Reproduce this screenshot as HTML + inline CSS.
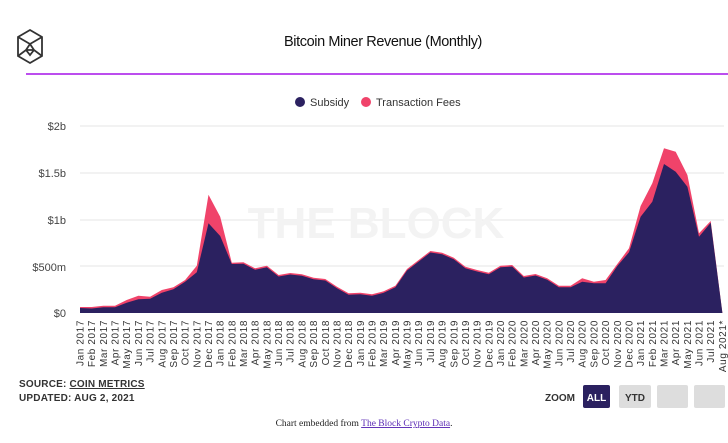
<!DOCTYPE html>
<html><head><meta charset="utf-8"><style>
body{margin:0;width:728px;height:443px;background:#fff;overflow:hidden;font-family:"Liberation Sans",sans-serif;}
</style></head><body>
<svg width="728" height="443" viewBox="0 0 728 443" xmlns="http://www.w3.org/2000/svg" style="position:absolute;left:0;top:0">
<g fill="none" stroke="#333" stroke-width="1.8">
<path d="M30 30 L42 37 L42 56 L30 63 L18 56 L18 37 Z"/>
<path d="M18 37 L30 44 L42 37 M18 56 L26 50 L34 50 L42 56 M30 44 L26 50 M30 44 L34 50 M26 50 L30 55 L34 50"/>
</g>
<text x="383" y="46" text-anchor="middle" font-size="14.5" fill="#111" letter-spacing="-0.4">Bitcoin Miner Revenue (Monthly)</text>
<line x1="26" y1="74" x2="728" y2="74" stroke="#a514e8" stroke-width="1.5"/>
<circle cx="300" cy="102" r="5" fill="#2b2160"/>
<text x="310" y="106" font-size="11" fill="#333">Subsidy</text>
<circle cx="366" cy="102" r="5" fill="#f0436a"/>
<text x="376" y="106" font-size="11" fill="#333">Transaction Fees</text>
<g stroke="#e6e6e6" stroke-width="1">
<line x1="80" y1="126" x2="724" y2="126"/><line x1="80" y1="173" x2="724" y2="173"/>
<line x1="80" y1="220" x2="724" y2="220"/><line x1="80" y1="266" x2="724" y2="266"/>
</g>
<g font-size="11" fill="#444" text-anchor="end">
<text x="66" y="130">$2b</text><text x="66" y="177">$1.5b</text><text x="66" y="224">$1b</text><text x="66" y="271">$500m</text><text x="66" y="317">$0</text>
</g>
<text x="376" y="238" text-anchor="middle" font-size="44" font-weight="bold" fill="#f3f3f3">THE BLOCK</text>
<polygon fill="#f0436a" points="80,313 80,307 91.7,307 103.4,305.7 115,305.7 126.7,300 138.4,295.7 150.1,296.7 161.8,290 173.4,287.3 185.1,280 196.8,265.7 208.5,194.7 220.2,216.7 231.8,262.7 243.5,262.3 255.2,268.3 266.9,265.7 278.6,275 290.2,273 301.9,274.3 313.6,277.7 325.3,279 337,286.7 348.6,293.3 360.3,292.7 372,294.3 383.7,291.3 395.4,285.7 407,269 418.7,260 430.4,251 442.1,252.7 453.8,257.7 465.4,266.7 477.1,270 488.8,272.7 500.5,265.7 512.2,265 523.8,276 535.5,274 547.2,278.3 558.9,285.7 570.6,285.7 582.2,278.3 593.9,281.7 605.6,280 617.3,264 629,248.3 640.6,206 652.3,183.3 664,148.3 675.7,151.7 687.4,175 699,233.3 710.7,221 722.4,313"/>
<polygon fill="#2b2160" points="80,313 80,308 91.7,308.5 103.4,307.2 115,307.2 126.7,302.7 138.4,299.3 150.1,298.7 161.8,292.7 173.4,289.3 185.1,281.7 196.8,272.3 208.5,223.3 220.2,236 231.8,264 243.5,263.8 255.2,269.8 266.9,267.2 278.6,276.5 290.2,274.5 301.9,275.8 313.6,279.2 325.3,280.5 337,288.2 348.6,294.8 360.3,294.2 372,295.8 383.7,292.8 395.4,287.2 407,270.5 418.7,261.5 430.4,252.5 442.1,254.2 453.8,259.2 465.4,268.2 477.1,271.5 488.8,274.2 500.5,267.2 512.2,266.5 523.8,277.5 535.5,275.5 547.2,279.8 558.9,287.2 570.6,287.2 582.2,281.7 593.9,283.3 605.6,283.3 617.3,266 629,252.3 640.6,216.7 652.3,201.7 664,164 675.7,171.7 687.4,186.7 699,236.7 710.7,222.7 722.4,313"/>
<g font-size="10" fill="#333" text-anchor="end" letter-spacing="0.6" id="xl"></g>
<text x="19" y="387" font-size="10" font-weight="bold" fill="#333" letter-spacing="0.2">SOURCE: <tspan text-decoration="underline">COIN METRICS</tspan></text>
<text x="19" y="401" font-size="10" font-weight="bold" fill="#333" letter-spacing="0.2">UPDATED: AUG 2, 2021</text>
<text x="545" y="401" font-size="10" font-weight="bold" fill="#333">ZOOM</text>
<rect x="583" y="385" width="27" height="23" rx="2" fill="#2b2160"/>
<text x="596.5" y="401" text-anchor="middle" font-size="10" font-weight="bold" fill="#fff">ALL</text>
<rect x="619" y="385" width="32" height="23" rx="2" fill="#ddd"/>
<text x="635" y="401" text-anchor="middle" font-size="10" font-weight="bold" fill="#333">YTD</text>
<rect x="657" y="385" width="31" height="23" rx="2" fill="#ddd"/>
<rect x="694" y="385" width="31" height="23" rx="2" fill="#ddd"/>
<text x="364" y="426" text-anchor="middle" font-size="9.5" font-family="Liberation Serif,serif" fill="#222">Chart embedded from <tspan fill="#5b2bb5" text-decoration="underline">The Block Crypto Data</tspan>.</text>
</svg>
<script>
var m=["Jan","Feb","Mar","Apr","May","Jun","Jul","Aug","Sep","Oct","Nov","Dec"],g=document.getElementById("xl"),s="";
for(var i=0;i<56;i++){var x=80+i*11.68+3.5,y=2017+Math.floor(i/12),t=m[i%12]+" "+y+(i==55?"*":"");
s+='<text transform="translate('+x.toFixed(1)+',320) rotate(-90)">'+t+'</text>';}
g.innerHTML=s;
</script>
</body></html>
